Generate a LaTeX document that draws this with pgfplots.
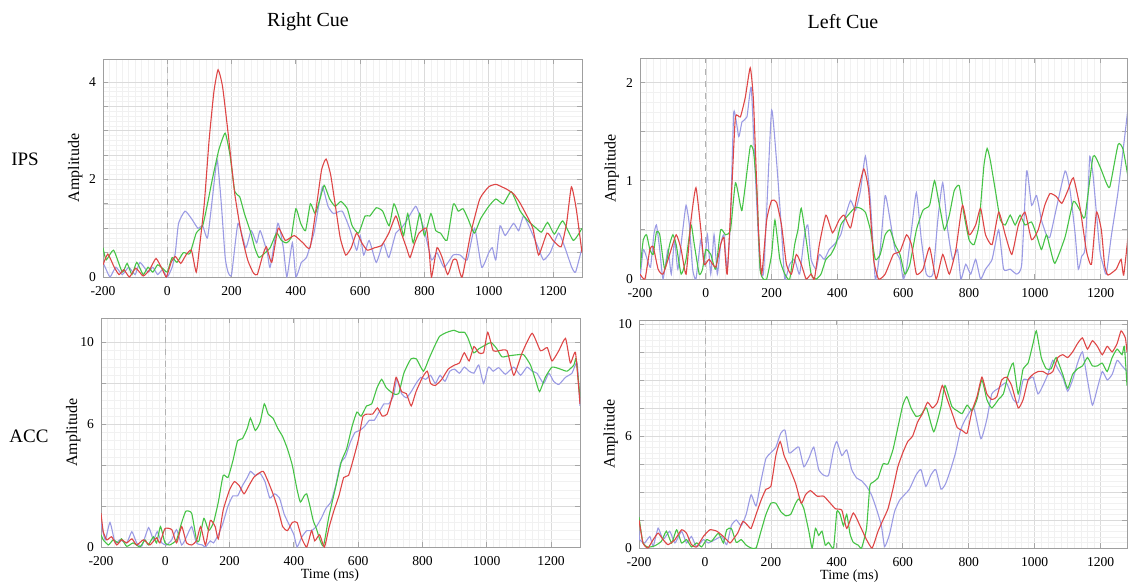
\documentclass[border=0pt]{standalone}
\usepackage{fontspec}
\setmainfont{Liberation Serif}
\usepackage{pgfplots}
\pgfplotsset{compat=1.18}
\definecolor{cred}{RGB}{222,70,70}
\definecolor{cgreen}{RGB}{70,195,70}
\definecolor{cblue}{RGB}{155,155,228}
\pgfplotsset{
  panel/.style={
    scale only axis,
    xmin=-200,
    axis line style={gray!75},
    xtick={-200,0,200,400,600,800,1000,1200},
    xticklabels={-200,0,200,400,600,800,1000,1200},
    minor x tick num=9,
    minor y tick num=4,
    grid=both,
    major grid style={gray!28, line width=0.3pt},
    minor grid style={gray!11, line width=0.25pt},
    tick style={gray!70, line width=0.4pt},
    major tick length=2.5pt, minor tick length=0pt,
    tick label style={font=\fontsize{6.8}{7}\selectfont},
    xticklabel style={yshift=-1pt},
    /pgf/number format/assume math mode=true,
    ylabel={Amplitude},
    ylabel style={font=\fontsize{8}{9}\selectfont, at={(axis description cs:-0.058,0.5)}, anchor=center},
    xlabel style={font=\fontsize{7}{8}\selectfont, anchor=center},
    extra x ticks={0}, extra x tick labels={},
    extra x tick style={grid=major, major grid style={gray!60, dashed, line width=0.4pt}},
    every axis plot/.append style={line width=0.55pt, no markers, smooth, tension=0.3},
  }
}
\begin{document}
\begin{tikzpicture}
\useasboundingbox (0,0) rectangle (564.5pt,292.5pt);
\node[font=\fontsize{10}{12}\selectfont] at (154pt,281.5pt) {Right Cue};
\node[font=\fontsize{10}{12}\selectfont] at (421.5pt,281.5pt) {Left Cue};
\node[font=\fontsize{9.5}{11}\selectfont] at (12.5pt,213pt) {IPS};
\node[font=\fontsize{9.5}{11}\selectfont] at (14.5pt,74.5pt) {ACC};

% ---------------- Top left: Right Cue, IPS
\begin{axis}[panel, at={(51.5pt,154pt)}, anchor=south west, width=239.5pt, height=109pt,
  xmax=1290, ymin=0, ymax=4.47,
  ytick={0,0.5,...,4}, yticklabels={0,,,,2,,,,4}]
\addplot[cblue] coordinates {(-200,0.3) (-190,0.15) (-178,0.0) (-160,0.2) (-140,0.05) (-120,0.2) (-100,0.05) (-85,0.3) (-60,0.1) (-45,0.2) (-30,0.05) (-15,0.15) (0,0.0) (15,0.2) (25,0.5) (35,1.1) (55,1.35) (75,1.2) (95,1.0) (110,1.05) (125,0.8) (140,1.6) (155,2.4) (168,1.5) (180,0.4) (189,0.1) (200,0.05) (220,1.1) (244,0.6) (261,0.95) (278,0.7) (289,0.95) (311,0.5) (320,0.2) (344,1.1) (361,0.6) (372,0.0) (389,0.7) (400,0.0) (417,0.3) (433,0.4) (456,0.9) (472,1.5) (483,1.85) (500,1.45) (517,1.3) (544,1.35) (567,1.0) (589,0.55) (600,0.85) (611,0.45) (628,0.75) (650,0.3) (672,0.7) (689,0.4) (711,0.9) (728,1.0) (744,1.15) (772,1.45) (783,1.3) (800,0.95) (822,0.35) (839,0.5) (861,0.2) (889,0.45) (911,0.45) (933,0.35) (956,1.0) (978,0.2) (1000,0.5) (1011,0.6) (1022,0.35) (1035,1.05) (1051,0.85) (1077,1.1) (1093,0.95) (1108,1.25) (1128,1.0) (1154,0.6) (1170,0.35) (1191,0.5) (1217,0.9) (1237,0.6) (1258,0.2) (1270,0.1) (1290,0.6)};
\addplot[cgreen] coordinates {(-200,0.6) (-190,0.35) (-167,0.55) (-140,0.1) (-125,0.28) (-110,0.05) (-95,0.3) (-75,0.05) (-60,0.2) (-45,0.1) (-30,0.25) (-10,0.15) (0,0.1) (15,0.4) (30,0.3) (50,0.5) (70,0.48) (90,0.9) (110,1.05) (125,1.5) (140,2.0) (160,2.6) (180,2.95) (195,2.5) (210,1.75) (225,1.65) (240,1.3) (260,0.9) (272,0.6) (285,0.4) (305,0.5) (320,0.6) (340,0.9) (355,0.75) (370,0.7) (385,0.8) (400,1.4) (415,1.1) (430,0.95) (445,1.5) (460,1.3) (475,1.6) (488,1.88) (505,1.6) (522,1.45) (540,1.55) (560,1.4) (575,1.05) (595,0.9) (615,1.25) (630,1.25) (650,1.42) (670,1.35) (690,1.05) (705,1.5) (722,1.2) (735,0.85) (748,1.3) (765,0.7) (785,1.3) (800,0.85) (820,1.3) (835,0.95) (850,0.9) (870,0.75) (890,1.5) (905,1.35) (920,1.4) (935,1.2) (955,0.9) (975,1.2) (1000,1.45) (1022,1.6) (1045,1.5) (1070,1.75) (1098,1.35) (1122,1.15) (1148,1.0) (1164,0.92) (1183,1.12) (1204,0.88) (1230,1.15) (1263,0.75) (1290,1.0)};
\addplot[cred] coordinates {(-200,0.25) (-185,0.47) (-165,0.2) (-150,0.05) (-135,0.15) (-118,0.0) (-98,0.18) (-75,0.02) (-55,0.15) (-35,0.38) (-15,0.15) (-3,0.0) (12,0.3) (25,0.42) (42,0.28) (58,0.45) (75,0.55) (90,0.1) (100,0.6) (115,1.5) (130,2.8) (145,3.8) (158,4.25) (172,3.9) (190,2.9) (210,1.7) (230,0.9) (250,0.35) (268,0.08) (280,0.05) (295,0.4) (308,0.62) (325,0.3) (345,1.0) (367,0.75) (395,0.85) (422,0.7) (444,0.6) (465,1.5) (480,2.2) (494,2.42) (508,2.1) (522,1.5) (538,0.8) (555,0.45) (572,0.6) (589,0.9) (605,0.7) (622,0.55) (645,0.6) (667,0.65) (689,0.9) (711,1.25) (728,0.9) (744,0.6) (755,0.4) (770,0.7) (783,0.9) (806,1.0) (815,0.5) (822,0.0) (839,0.6) (855,0.4) (872,0.05) (889,0.35) (900,0.35) (917,0.0) (944,0.9) (972,1.6) (1000,1.85) (1022,1.9) (1040,1.85) (1056,1.8) (1078,1.7) (1097,1.52) (1115,1.3) (1137,1.0) (1155,0.45) (1181,0.9) (1200,0.75) (1225,0.62) (1242,1.1) (1257,1.85) (1272,1.4) (1290,0.5)};
\end{axis}

% ---------------- Top right: Left Cue, IPS
\begin{axis}[panel, at={(320pt,153pt)}, anchor=south west, width=243.5pt, height=110.5pt,
  xmax=1280, ymin=0, ymax=2.25,
  ytick={0,0.5,1,1.5,2}, yticklabels={0,,1,,2}]
\addplot[cblue] coordinates {(-200,0.0) (-190,0.3) (-178,0.2) (-168,0.12) (-158,0.45) (-150,0.55) (-140,0.3) (-130,0.0) (-115,0.3) (-105,0.05) (-95,0.4) (-85,0.1) (-70,0.5) (-60,0.75) (-50,0.55) (-40,0.1) (-30,0.0) (-15,0.4) (-5,0.15) (5,0.45) (15,0.05) (25,0.45) (35,0.05) (45,0.35) (55,0.45) (65,0.1) (75,0.6) (85,1.7) (100,1.45) (110,1.6) (125,1.65) (138,1.95) (150,1.1) (160,0.4) (165,0.1) (175,0.05) (185,0.7) (200,1.72) (215,1.2) (230,0.5) (240,0.0) (255,0.15) (270,0.2) (285,0.05) (300,0.45) (310,0.55) (320,0.2) (335,0.1) (345,0.25) (360,0.2) (375,0.3) (390,0.35) (410,0.45) (425,0.65) (440,0.8) (455,0.7) (470,0.9) (485,1.25) (500,0.8) (515,0.0) (530,0.3) (545,0.85) (560,0.6) (575,0.3) (590,0.2) (600,0.0) (610,0.1) (625,0.5) (640,0.88) (655,0.4) (670,0.05) (690,0.05) (705,0.6) (720,0.98) (735,0.5) (750,0.2) (765,0.3) (775,0.0) (790,0.15) (805,0.05) (820,0.2) (835,0.0) (850,0.1) (870,0.2) (890,0.5) (905,0.1) (925,0.1) (945,0.05) (960,0.15) (975,1.1) (990,0.75) (1005,0.85) (1020,0.6) (1035,0.45) (1046,0.43) (1066,0.73) (1092,1.1) (1107,0.9) (1122,0.47) (1132,0.1) (1142,0.23) (1152,0.3) (1162,0.9) (1167,1.25) (1177,1.05) (1197,0.3) (1207,0.15) (1217,0.05) (1232,0.43) (1252,0.87) (1273,1.45) (1285,1.8)};
\addplot[cgreen] coordinates {(-200,0.1) (-190,0.4) (-180,0.45) (-170,0.3) (-160,0.25) (-150,0.48) (-140,0.45) (-125,0.1) (-110,0.35) (-100,0.45) (-90,0.35) (-75,0.05) (-60,0.2) (-45,0.55) (-35,0.35) (-20,0.05) (-10,0.1) (0,0.3) (15,0.25) (30,0.1) (45,0.5) (60,0.45) (75,0.5) (90,0.98) (105,0.75) (110,0.7) (120,0.95) (135,1.35) (145,1.3) (155,0.9) (165,0.1) (175,0.0) (185,0.0) (200,0.25) (210,0.6) (225,0.2) (240,0.05) (255,0.0) (270,0.35) (280,0.5) (290,0.72) (305,0.4) (320,0.05) (335,0.0) (350,0.05) (365,0.2) (380,0.25) (395,0.35) (410,0.55) (425,0.62) (440,0.68) (455,0.73) (470,0.72) (485,0.68) (500,0.5) (515,0.2) (530,0.25) (545,0.45) (560,0.5) (575,0.35) (590,0.25) (605,0.05) (620,0.15) (640,0.5) (660,0.7) (680,0.75) (695,1.0) (710,0.75) (725,0.5) (740,0.65) (755,0.9) (770,0.95) (785,0.65) (800,0.4) (815,0.35) (830,0.55) (845,1.15) (855,1.33) (865,1.2) (880,0.9) (895,0.6) (910,0.55) (925,0.65) (940,0.55) (955,0.65) (970,0.55) (990,0.58) (1005,0.45) (1020,0.3) (1035,0.45) (1046,0.32) (1061,0.16) (1092,0.43) (1117,0.79) (1137,0.7) (1152,0.63) (1177,1.25) (1197,1.15) (1217,0.98) (1228,0.94) (1253,1.37) (1268,1.32) (1285,1.0)};
\addplot[cred] coordinates {(-200,0.05) (-185,0.0) (-170,0.3) (-160,0.33) (-145,0.1) (-130,0.05) (-110,0.25) (-90,0.45) (-75,0.3) (-60,0.05) (-45,0.6) (-30,0.93) (-15,0.5) (-5,0.15) (10,0.2) (30,0.12) (45,0.35) (55,0.42) (65,0.05) (80,1.0) (90,1.65) (105,1.65) (120,1.85) (135,2.15) (145,1.8) (160,0.5) (170,0.05) (185,0.6) (200,0.8) (215,0.78) (230,0.55) (245,0.15) (260,0.05) (275,0.25) (290,0.15) (305,0.0) (320,0.05) (330,0.0) (345,0.35) (365,0.65) (385,0.47) (405,0.6) (420,0.65) (440,0.52) (460,0.85) (480,1.12) (495,0.9) (510,0.2) (525,0.0) (545,0.05) (570,0.25) (590,0.28) (610,0.45) (625,0.35) (640,0.05) (660,0.1) (680,0.32) (700,0.0) (720,0.25) (740,0.05) (760,0.3) (780,0.75) (800,0.45) (820,0.55) (835,0.72) (850,0.45) (870,0.35) (890,0.68) (910,0.45) (930,0.25) (950,0.55) (970,0.68) (990,0.4) (1010,0.5) (1030,0.75) (1046,0.87) (1065,0.84) (1082,0.77) (1100,0.9) (1117,1.03) (1137,0.73) (1157,0.28) (1172,0.15) (1187,0.68) (1202,0.5) (1212,0.14) (1222,0.04) (1247,0.1) (1262,0.2) (1270,0.04) (1285,0.5)};
\end{axis}

% ---------------- Bottom left: Right Cue, ACC
\begin{axis}[panel, at={(50.5pt,19pt)}, anchor=south west, width=239.5pt, height=114.5pt,
  xmax=1290, ymin=0, ymax=11.2,
  ytick={0,2,...,10}, yticklabels={0,,,6,,10},
  xlabel={Time (ms)}, xlabel style={at={(axis description cs:0.478,-0.125)}}]
\addplot[cblue] coordinates {(-200,1.2) (-187,0.35) (-172,1.2) (-156,0.2) (-141,0.35) (-120,0.2) (-104,0.75) (-89,0.2) (-73,0.05) (-52,0.95) (-37,0.35) (-25,0.75) (-11,0.2) (4,0.1) (20,0.35) (35,0.85) (51,0.1) (66,0.5) (82,1.0) (97,0.2) (115,0.1) (125,0.0) (140,0.3) (150,0.2) (165,0.6) (180,1.2) (195,2.0) (210,2.5) (225,2.5) (240,3.0) (255,3.4) (265,3.7) (280,3.5) (295,3.6) (310,3.2) (325,2.4) (340,2.6) (355,2.4) (370,1.6) (385,1.1) (400,0.6) (410,0.0) (425,0.5) (440,0.8) (455,0.8) (470,1.0) (485,1.4) (500,1.9) (515,2.2) (530,3.0) (545,4.1) (560,4.4) (575,5.1) (590,5.6) (605,5.7) (620,5.9) (635,6.2) (650,6.2) (665,6.6) (680,7.0) (695,7.0) (710,7.4) (720,8.2) (735,7.5) (750,7.3) (765,7.6) (780,8.0) (795,8.3) (810,8.2) (825,8.4) (840,8.0) (855,8.4) (870,8.1) (885,8.6) (900,8.7) (915,8.5) (930,8.8) (945,8.6) (960,8.5) (975,8.9) (990,8.0) (1005,8.8) (1020,8.6) (1037,8.77) (1058,8.45) (1084,8.8) (1105,8.4) (1125,8.8) (1141,8.6) (1156,8.5) (1177,8.0) (1193,8.5) (1208,8.1) (1224,7.95) (1245,8.3) (1265,8.5) (1281,9.0) (1290,6.9)};
\addplot[cgreen] coordinates {(-200,0.6) (-193,0.35) (-177,0.1) (-162,0.35) (-146,0.2) (-136,0.4) (-120,0.03) (-100,0.2) (-79,0.0) (-63,0.35) (-53,0.1) (-37,0.5) (-27,0.2) (-15,1.0) (-1,0.2) (14,0.1) (35,0.35) (51,1.2) (64,1.75) (82,1.65) (97,0.35) (105,0.3) (120,1.4) (135,0.8) (150,1.2) (165,2.2) (180,3.5) (195,3.4) (210,4.2) (225,5.2) (240,5.3) (255,5.8) (265,6.3) (280,5.7) (295,6.1) (308,7.0) (320,6.5) (335,6.3) (350,5.8) (365,5.4) (380,4.8) (395,4.0) (410,2.8) (420,2.2) (432,2.5) (440,2.6) (450,2.0) (460,1.3) (470,0.9) (480,0.4) (492,0.05) (509,1.5) (531,3.0) (548,4.2) (564,4.8) (581,5.9) (596,6.6) (609,6.4) (626,6.9) (642,7.0) (659,7.8) (673,8.2) (687,7.8) (709,7.5) (726,7.5) (742,8.5) (764,9.2) (781,9.2) (803,8.6) (820,9.2) (837,9.8) (853,10.3) (876,10.5) (898,10.6) (914,10.5) (931,10.5) (942,10.2) (959,9.5) (976,9.7) (998,9.9) (1014,10.0) (1031,9.7) (1047,9.3) (1068,9.35) (1094,9.4) (1115,9.4) (1136,8.9) (1151,8.2) (1164,7.6) (1182,8.3) (1203,8.8) (1229,8.7) (1250,8.6) (1271,8.9) (1278,9.2) (1290,7.3)};
\addplot[cred] coordinates {(-200,1.65) (-193,0.75) (-182,0.35) (-167,0.5) (-151,0.1) (-136,0.35) (-120,0.2) (-104,0.4) (-89,0.1) (-68,0.35) (-48,0.1) (-27,0.45) (-17,0.2) (-1,0.9) (20,0.85) (35,0.2) (51,1.0) (66,0.2) (82,0.1) (97,0.3) (110,1.0) (125,0.1) (140,1.3) (155,1.0) (165,0.4) (180,1.8) (200,2.8) (215,3.2) (230,3.0) (245,2.6) (260,3.0) (275,3.4) (290,3.6) (305,3.7) (320,3.2) (335,2.6) (350,1.9) (365,1.0) (380,0.8) (395,1.2) (410,1.2) (425,0.4) (440,0.0) (455,0.8) (465,0.3) (480,0.6) (495,0.0) (510,1.0) (525,1.8) (540,2.5) (555,3.4) (570,3.5) (585,4.3) (600,5.2) (615,6.4) (630,6.5) (645,6.5) (660,6.8) (675,6.4) (690,6.5) (705,7.3) (718,8.3) (735,7.6) (750,7.5) (765,6.9) (780,7.6) (800,8.3) (815,8.6) (825,8.0) (840,7.9) (860,8.2) (880,8.7) (900,8.9) (915,9.0) (930,9.5) (945,9.1) (960,9.8) (975,9.5) (990,9.5) (1003,10.5) (1020,9.6) (1037,9.6) (1063,9.6) (1084,8.4) (1110,9.5) (1141,10.45) (1167,9.6) (1188,9.75) (1203,9.1) (1224,9.6) (1245,10.2) (1260,9.0) (1276,9.5) (1290,7.0)};
\end{axis}

% ---------------- Bottom right: Left Cue, ACC (labels as printed on the original axis)
\begin{axis}[panel, at={(319.5pt,18.5pt)}, anchor=south west, width=244pt, height=114pt,
  xmax=1280, ymin=0, ymax=8.14,
  ytick={0,1,...,8}, yticklabels={0,,,,6,,,,10},
  xlabel={Time (ms)}, xlabel style={at={(axis description cs:0.431,-0.123)}}]
\addplot[cblue] coordinates {(-200,0.6) (-198,0.3) (-183,0.18) (-167,0.41) (-157,0.06) (-142,0.71) (-127,0.3) (-107,0.6) (-91,0.18) (-71,0.6) (-56,0.18) (-41,0.41) (-25,0.04) (-5,0.3) (10,0.18) (31,0.3) (51,0.41) (66,0.12) (80,0.8) (95,1.0) (110,0.8) (125,1.2) (140,1.9) (155,1.5) (170,2.4) (185,3.2) (200,3.4) (215,3.6) (230,4.1) (243,4.2) (255,3.4) (270,3.5) (285,3.6) (300,2.9) (315,3.2) (330,3.6) (345,2.8) (360,2.6) (375,2.6) (390,3.5) (400,3.8) (415,3.3) (430,3.5) (445,2.8) (460,2.5) (475,2.4) (490,2.2) (505,1.9) (520,1.4) (535,0.8) (545,0.05) (560,0.5) (575,1.3) (590,1.7) (605,1.9) (620,2.1) (640,2.6) (655,2.8) (670,2.2) (685,2.6) (700,2.8) (716,2.1) (730,2.3) (745,2.8) (760,3.4) (775,4.2) (790,4.6) (815,5.0) (837,3.9) (855,4.6) (870,5.5) (890,5.7) (914,5.9) (935,5.3) (950,5.2) (965,6.0) (980,6.0) (995,6.1) (1010,5.5) (1025,5.8) (1040,6.2) (1055,6.7) (1070,6.4) (1085,6.1) (1100,5.6) (1115,6.0) (1130,6.6) (1145,7.0) (1160,6.0) (1175,5.1) (1190,5.7) (1205,6.3) (1220,6.0) (1235,6.2) (1250,6.7) (1265,6.5) (1280,6.3)};
\addplot[cgreen] coordinates {(-200,1.1) (-188,0.18) (-173,0.03) (-152,0.08) (-132,0.24) (-117,0.6) (-101,0.18) (-86,0.65) (-71,0.18) (-56,0.3) (-41,0.04) (-25,0.18) (-10,0.04) (5,0.3) (20,0.24) (41,0.53) (56,0.18) (66,0.65) (80,0.7) (95,0.2) (110,0.3) (125,0.1) (140,0.0) (155,0.0) (170,0.6) (185,1.2) (200,1.6) (215,1.6) (230,1.3) (245,1.15) (260,1.2) (275,1.6) (285,1.75) (300,1.4) (315,0.6) (325,0.0) (335,0.7) (345,0.45) (355,0.6) (365,0.1) (375,0.2) (390,0.0) (400,1.3) (410,1.2) (420,0.8) (430,1.2) (440,0.5) (450,0.2) (465,0.1) (475,0.0) (490,0.7) (500,2.2) (510,2.35) (525,2.5) (540,3.0) (555,3.0) (570,3.5) (585,4.3) (600,5.1) (612,5.4) (625,5.0) (640,4.7) (655,4.75) (672,5.0) (694,4.15) (716,5.05) (728,5.8) (749,5.05) (765,4.9) (780,4.8) (795,5.1) (810,4.9) (825,5.3) (840,6.0) (855,5.3) (870,5.0) (890,5.3) (905,5.5) (920,6.2) (935,6.6) (950,5.5) (965,6.4) (980,6.6) (995,7.3) (1005,7.75) (1020,6.8) (1035,6.4) (1050,6.4) (1065,6.8) (1085,6.2) (1100,5.7) (1115,6.2) (1130,6.4) (1145,6.5) (1160,6.8) (1175,6.5) (1190,6.5) (1205,6.6) (1220,6.3) (1235,6.8) (1250,7.1) (1265,6.9) (1272,7.2) (1280,5.8)};
\addplot[cred] coordinates {(-200,1.0) (-188,0.18) (-173,0.0) (-157,0.3) (-142,0.53) (-127,0.3) (-112,0.12) (-91,0.3) (-71,0.65) (-56,0.53) (-41,0.12) (-25,0.04) (-5,0.41) (15,0.65) (36,0.6) (56,0.41) (76,0.18) (85,0.3) (100,0.55) (115,0.95) (130,0.8) (140,0.7) (155,1.2) (170,1.7) (185,2.1) (200,2.2) (215,3.3) (228,3.8) (240,3.3) (255,2.9) (275,2.3) (292,1.6) (305,1.9) (320,2.05) (340,1.85) (360,1.85) (380,1.6) (396,1.4) (415,1.35) (430,0.7) (450,1.25) (470,0.8) (490,0.3) (507,0.0) (525,0.6) (540,1.0) (555,1.4) (570,2.1) (585,2.9) (600,3.4) (615,3.8) (630,4.0) (645,4.5) (660,4.8) (675,5.2) (690,5.0) (705,5.2) (720,5.8) (735,5.3) (750,4.8) (765,4.3) (780,4.2) (795,4.1) (810,4.9) (825,5.4) (840,6.1) (855,5.5) (870,5.3) (885,5.4) (900,6.0) (915,6.1) (930,5.8) (950,5.0) (965,5.3) (980,6.0) (995,6.2) (1010,6.3) (1025,6.3) (1040,6.2) (1055,6.3) (1070,6.8) (1085,6.9) (1100,6.8) (1115,7.0) (1130,7.3) (1145,7.5) (1160,7.1) (1175,7.4) (1190,7.2) (1205,6.9) (1220,7.2) (1235,7.0) (1250,7.3) (1262,7.75) (1275,7.5) (1280,7.0)};
\end{axis}
\end{tikzpicture}
\end{document}
